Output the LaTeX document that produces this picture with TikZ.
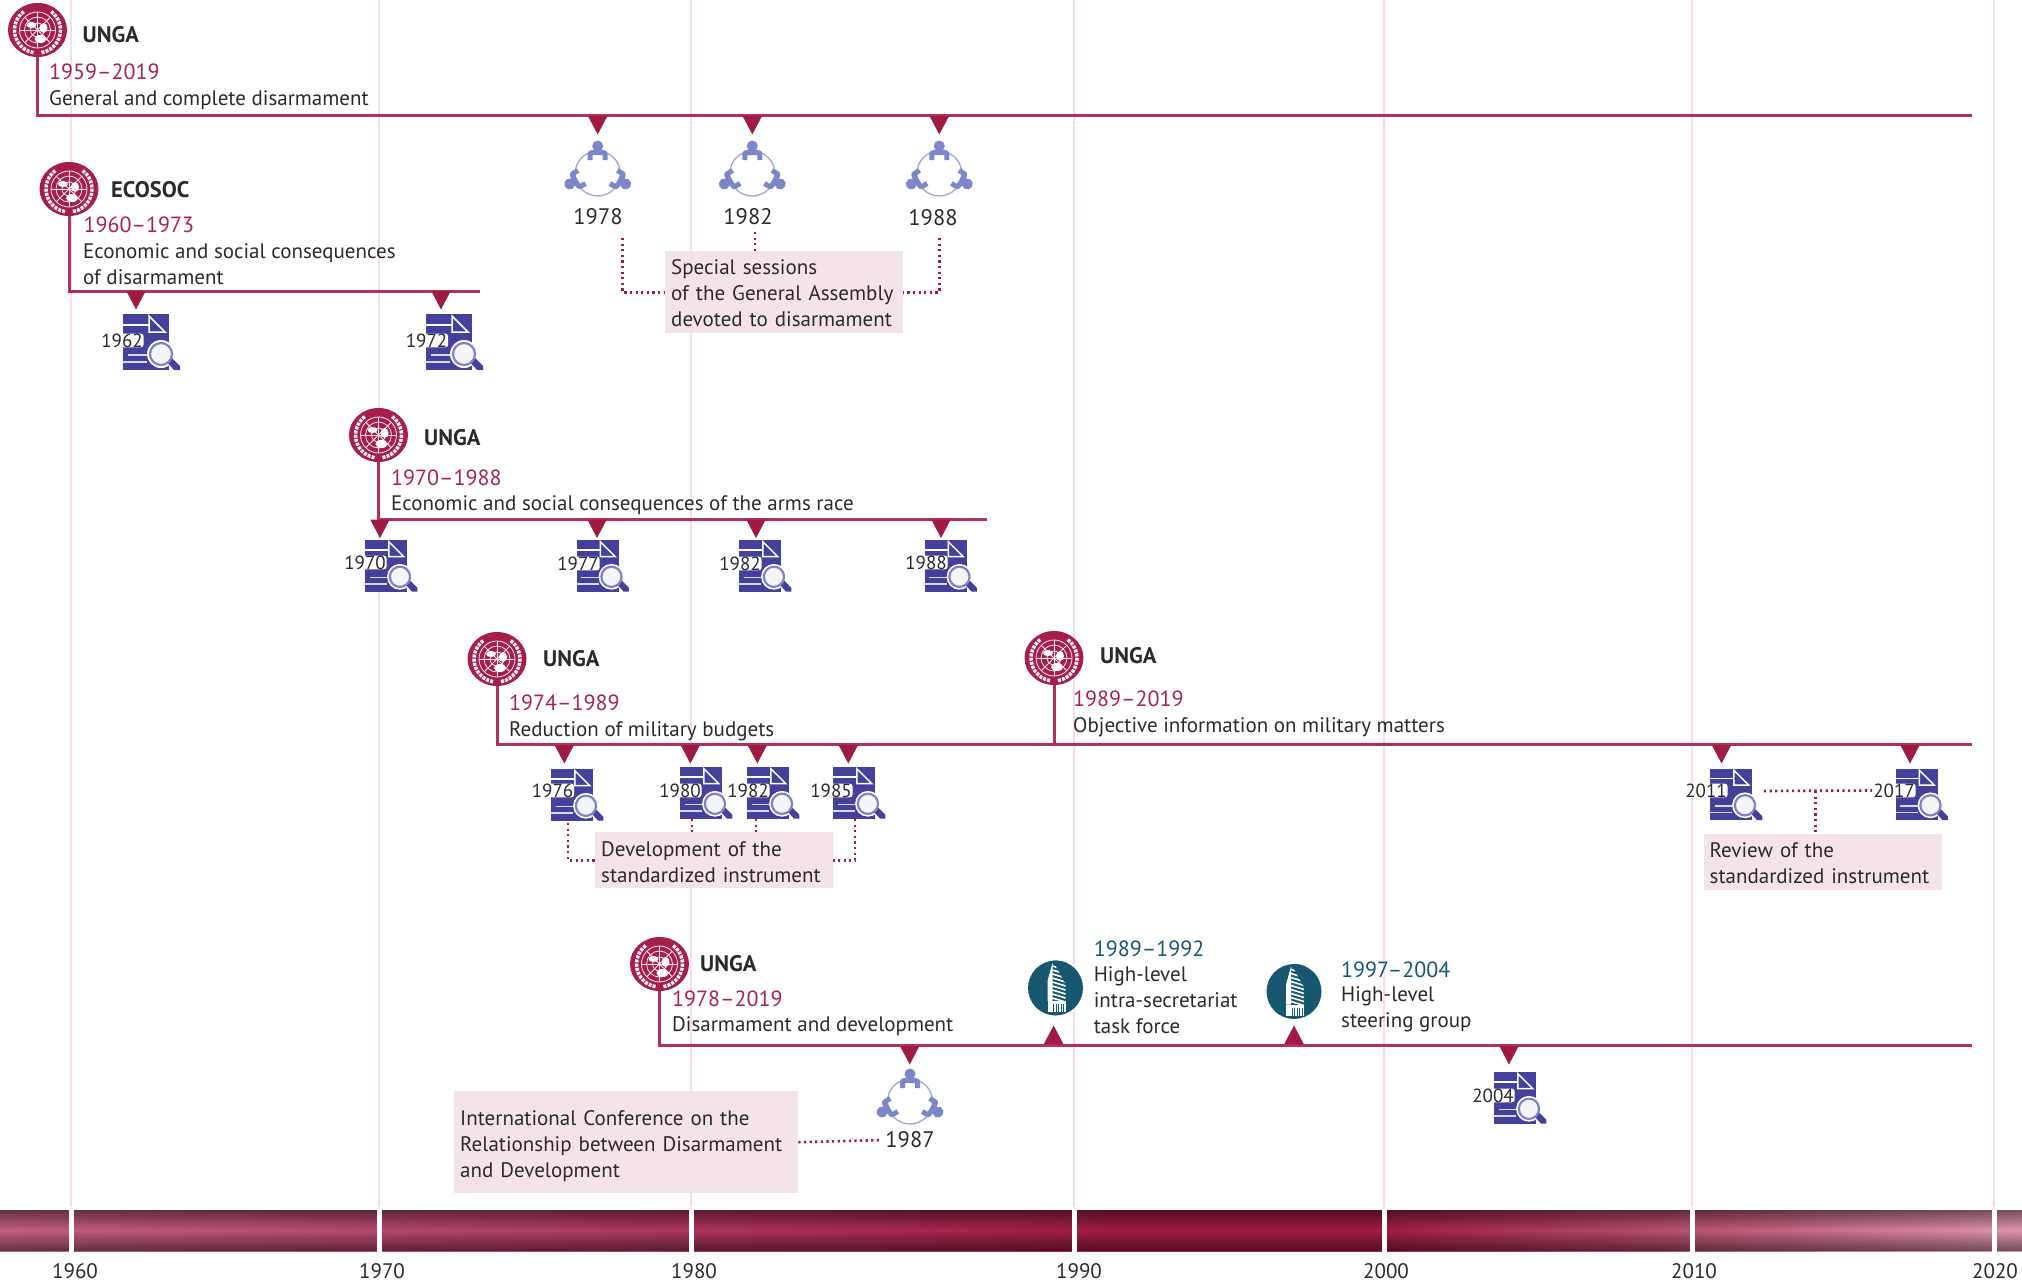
\documentclass[tikz,border=0pt]{standalone}
\usepackage{fontspec}
\setmainfont{PT Sans}
\usetikzlibrary{shapes.geometric}

\definecolor{linered}{RGB}{176,50,90}
\definecolor{trired}{RGB}{158,27,66}
\definecolor{unred}{RGB}{166,30,75}
\definecolor{rangered}{RGB}{168,36,80}
\definecolor{gridpink}{RGB}{245,222,230}
\definecolor{boxpink}{RGB}{244,228,232}
\definecolor{docblue}{RGB}{68,64,156}
\definecolor{ringblue}{RGB}{130,130,195}
\definecolor{folkblue}{RGB}{125,134,200}
\definecolor{teal}{RGB}{23,87,111}
\definecolor{inkgrey}{RGB}{42,42,42}
\definecolor{barA}{RGB}{192,96,128}
\definecolor{barB}{RGB}{172,52,92}
\definecolor{barC}{RGB}{160,28,68}
\definecolor{barD}{RGB}{185,85,115}
\definecolor{barE}{RGB}{222,150,175}

\pgfdeclarehorizontalshading{barshade}{100bp}{
  color(0bp)=(barA); color(25bp)=(barA); color(42.5bp)=(barB); color(52.5bp)=(barC);
  color(59bp)=(barC); color(67bp)=(barD); color(75bp)=(barE); color(100bp)=(barE)}

\tikzset{
  timeline/.style={draw=linered,line width=3pt},
  dotline/.style={draw=trired,line width=2.6pt,dash pattern=on 2.2pt off 3.4pt},
  tridown/.style={isosceles triangle,isosceles triangle stretches,shape border rotate=-90,fill=trired,
    inner sep=0pt,outer sep=0pt,minimum width=19.5pt,minimum height=18.5pt,anchor=lower side},
  triup/.style={tridown,shape border rotate=90},
  sizeA/.style={font=\fontsize{21}{26}\selectfont,text=inkgrey},
  bodytxt/.style={sizeA,anchor=west,inner sep=0pt,align=left},
  rangetxt/.style={font=\fontsize{22}{28}\selectfont,text=rangered,anchor=west,inner sep=0pt},
  tealtxt/.style={rangetxt,text=teal},
  orgtxt/.style={font=\fontsize{22.5}{26}\selectfont\bfseries,text=inkgrey,anchor=west,inner sep=0pt},
  yearlab/.style={font=\fontsize{19}{24}\selectfont,text=inkgrey,fill=white,rounded corners=3pt,inner xsep=1pt,inner ysep=0pt,yshift=-1.5pt},
  yearplain/.style={font=\fontsize{22.5}{28}\selectfont,text=inkgrey,inner sep=0pt},
  axislab/.style={sizeA,inner sep=0pt},
  infobox/.style={sizeA,fill=boxpink,inner xsep=6pt,inner ysep=0pt,align=left,anchor=north west,
    execute at begin node={\rule{0pt}{16pt}}},
  emblem/.style={ellipse,fill=unred,minimum width=59pt,minimum height=54pt,inner sep=0pt,
    path picture={
      \scope[shift={(path picture bounding box.center)},pink!35!white,line width=0.8pt]
        \foreach \rr in {7,13,18} {\draw (0,0) circle[radius=\rr];}
        \foreach \aa in {0,45,...,315} {\draw (0,0) -- (\aa:18);}
        \fill[white] (-6,-5) ellipse[x radius=5,y radius=3];
        \fill[white] (6,-2) ellipse[x radius=4,y radius=5];
        \fill[white] (3,9) ellipse[x radius=6,y radius=4];
        \draw[white!85!pink,line width=3.5pt,dash pattern=on 3pt off 1.2pt] (100:23) arc[start angle=100,end angle=235,radius=23];
        \draw[white!85!pink,line width=3.5pt,dash pattern=on 3pt off 1.2pt] (80:23) arc[start angle=80,end angle=-55,radius=23];
      \endscope}},
  tower/.style={circle,fill=teal,minimum size=55pt,inner sep=0pt,
    path picture={
      \scope[shift={(path picture bounding box.center)}]
        \fill[white] (-8,-7) -- (-3,-25) -- (-3,13) -- (-8,13) -- cycle;
        \fill[white] (-8,13) rectangle (10,24);
        \foreach \bx in {-2,0.5,...,8} {\draw[teal,line width=0.7pt] (\bx,16) -- (\bx,24);}
        \foreach \by in {-22,-18,...,10} {\draw[white,line width=1.6pt] (-3,\by) -- (10,\by+4);}
        \fill[teal] (-3,-28) -- (12,-28) -- (12,-5) -- (9,-6) -- cycle;
      \endscope}},
  docicon/.pic={
    \fill[docblue] (0,0) rectangle (46,56);
    \draw[white,line width=1.5pt] (0,11) -- (26,11);
    \draw[white,line width=1.5pt] (26,2) -- (42,18) -- (26,18) -- cycle;
    \draw[white!80!docblue,line width=1.5pt] (5,41) -- (24,41);
    \draw[white!80!docblue,line width=1.5pt] (0,48) -- (24,48);
    \fill[white] (38,40) circle[radius=14];
    \fill[docblue] (43,47) -- (48,43) -- (57,52) -- (57,56) -- (51,56) -- cycle;
    \draw[ringblue,fill=white!94!docblue,line width=2.2pt] (38,40) circle[radius=11];
  },
  triad/.pic={
    \draw[folkblue!70!white,line width=1.4pt] (0,1.5) circle[radius=22.5];
    \foreach \rot/\hx/\hy in {0/0/-26,240/28/12,120/-28/12} {
      \scope[shift={(\hx,\hy)},rotate=\rot]
        \fill[folkblue] (0,0) circle[radius=5.5];
        \fill[folkblue] (-10,14) -- (-10,8) .. controls (-10,4) and (-6,3.7) .. (0,3.7)
          .. controls (6,3.7) and (10,4) .. (10,8) -- (10,14) -- (5,14) -- (5,9)
          -- (-5,9) -- (-5,14) -- cycle;
      \endscope}
  }
}

\begin{document}
\begin{tikzpicture}[x=1pt,y=-1pt]
	\useasboundingbox (0,0) rectangle (2022,1282);

	% bar and grid
	\shade[shading=barshade] (0,1210) rectangle (2022,1251);
	\foreach \k in {0,...,40} {
		\fill[black,opacity={0.47*abs(\k-20)/20}] (0,1210+\k) rectangle (2022,1211+\k);
	}
	\foreach \gx/\lx/\yr in {71/75/1960,379/382/1970,691/694/1980,1074/1079/1990,1384/1386/2000,1692/1694/2010,1994/1995/2020} {
		\draw[gridpink,line width=1.6pt] (\gx,0) -- (\gx,1207);
		\fill[white] (\gx-2.5,1208) rectangle (\gx+2.5,1253);
		\node[axislab] (yr\yr) at (\lx,1271) {\yr};
	}

	% general and complete disarmament
	\node[emblem] (ungaA) at (37.5,30) {};
	\coordinate (endA) at (1972,115.5);
	\draw[timeline] (ungaA.south) |- (endA);
	\node[orgtxt] (orgA) at (82.5,34.5) {UNGA};
	\node[rangetxt] (rangeA) at (49,71.5) {1959–2019};
	\node[bodytxt] (nameA) at (49,100.5) {General and complete disarmament};
	\node[tridown] (triA1) at (597.7,116) {};
	\node[tridown] (triA2) at (752.3,116) {};
	\node[tridown] (triA3) at (939.3,116) {};
	\pic at (597.7,172) {triad};
	\pic at (752.3,172) {triad};
	\pic at (939.3,172) {triad};
	\node[yearplain] (yrA1) at (598,216.7) {1978};
	\node[yearplain] (yrA2) at (748,216.7) {1982};
	\node[yearplain] (yrA3) at (933,218) {1988};
	\node[infobox,minimum height=82pt,text width=225.7pt] (boxA) at (665,251) {Special sessions\\of the General Assembly\\devoted to disarmament};
	\coordinate (dotA1) at (622.5,238);
	\coordinate (dotA2) at (755,232);
	\coordinate (dotA3) at (939.3,238);
	\draw[dotline] (dotA1) |- (boxA.west);
	\draw[dotline] (dotA2) -- (dotA2|-boxA.north);
	\draw[dotline] (dotA3) |- (boxA.east);

	% economic and social consequences of disarmament
	\node[emblem] (ecosoc) at (69,189) {};
	\coordinate (endB) at (480,291);
	\draw[timeline] (ecosoc.south) |- (endB);
	\node[orgtxt] (orgB) at (111,189.5) {ECOSOC};
	\node[rangetxt] (rangeB) at (83.5,224.5) {1960–1973};
	\node[bodytxt] (nameB) at (83,264) {Economic and social consequences\\of disarmament};
	\node[tridown] (triB1) at (136,291) {};
	\node[tridown] (triB2) at (441,291) {};
	\pic at (123,314) {docicon};
	\pic at (426,314) {docicon};
	\node[yearlab] (yrB1) at (122,339) {1962};
	\node[yearlab] (yrB2) at (426.5,339) {1972};

	% arms race
	\node[emblem] (ungaC) at (378.5,435) {};
	\coordinate (endC) at (986.5,519);
	\draw[timeline] (ungaC.south) |- (endC);
	\node[orgtxt] (orgC) at (424,438) {UNGA};
	\node[rangetxt] (rangeC) at (391,477.5) {1970–1988};
	\node[bodytxt] (nameC) at (391,505.5) {Economic and social consequences of the arms race};
	\node[tridown] (triC1) at (380,519.5) {};
	\node[tridown] (triC2) at (597,519.5) {};
	\node[tridown] (triC3) at (756,519.5) {};
	\node[tridown] (triC4) at (941,519.5) {};
	\pic[scale=0.92] at (365,540) {docicon};
	\pic[scale=0.92] at (576.5,540) {docicon};
	\pic[scale=0.92] at (739,540) {docicon};
	\pic[scale=0.92] at (924.5,540) {docicon};
	\node[yearlab] (yrC1) at (365,561) {1970};
	\node[yearlab] (yrC2) at (578,562) {1977};
	\node[yearlab] (yrC3) at (740,562) {1982};
	\node[yearlab] (yrC4) at (926,561) {1988};

	% military budgets and military matters
	\node[emblem] (ungaD) at (497,659) {};
	\node[emblem] (ungaE) at (1054,658) {};
	\coordinate (endD) at (1972,744.5);
	\draw[timeline] (ungaD.south) |- (endD);
	\draw[timeline] (ungaE.south) -- (ungaE|-endD);
	\node[orgtxt] (orgD) at (543,658.6) {UNGA};
	\node[orgtxt] (orgE) at (1100,656) {UNGA};
	\node[rangetxt] (rangeD) at (509,702.5) {1974–1989};
	\node[rangetxt] (rangeE) at (1073,698.6) {1989–2019};
	\node[bodytxt] (nameD) at (509,731) {Reduction of military budgets};
	\node[bodytxt] (nameE) at (1073,727) {Objective information on military matters};
	\node[tridown] (triD1) at (564.3,745) {};
	\node[tridown] (triD2) at (690.3,745) {};
	\node[tridown] (triD3) at (757.3,745) {};
	\node[tridown] (triD4) at (848.3,745) {};
	\node[tridown] (triE1) at (1721.5,745) {};
	\node[tridown] (triE2) at (1910,745) {};
	\pic[scale=0.92] at (551,769) {docicon};
	\pic[scale=0.92] at (680,767) {docicon};
	\pic[scale=0.92] at (747,767) {docicon};
	\pic[scale=0.92] at (833,767) {docicon};
	\pic[scale=0.92] at (1710,768.5) {docicon};
	\pic[scale=0.92] at (1895.5,768.5) {docicon};
	\node[yearlab] (yrD1) at (552.5,789) {1976};
	\node[yearlab] (yrD2) at (680,789) {1980};
	\node[yearlab] (yrD3) at (748,789) {1982};
	\node[yearlab] (yrD4) at (831,789) {1985};
	\node[yearlab] (yrE1) at (1706,789) {2011};
	\node[yearlab] (yrE2) at (1894,789) {2017};
	\node[infobox,minimum height=56pt,text width=226pt,execute at begin node={\rule{0pt}{18pt}}] (boxD) at (595,832) {Development of the\\standardized instrument};
	\node[infobox,minimum height=56pt,text width=226.5pt] (boxE) at (1703.5,834) {Review of the\\standardized instrument};
	\coordinate (dotD1) at (568,823);
	\coordinate (dotD2) at (692,819);
	\coordinate (dotD3) at (756,819);
	\coordinate (dotD4) at (855,819);
	\coordinate (dotE1) at (1764,791);
	\coordinate (dotE2) at (1815.6,791);
	\draw[dotline] (dotD1) |- (boxD.west);
	\draw[dotline] (dotD2) -- (dotD2|-boxD.north);
	\draw[dotline] (dotD3) -- (dotD3|-boxD.north);
	\draw[dotline] (dotD4) |- (boxD.east);
	\draw[dotline] (dotE1) -- (yrE2.west);
	\draw[dotline] (dotE2) -- (dotE2|-boxE.north);

	% disarmament and development
	\node[emblem] (ungaF) at (659.5,964) {};
	\coordinate (endF) at (1972,1045);
	\draw[timeline] (ungaF.south) |- (endF);
	\node[orgtxt] (orgF) at (700,963.6) {UNGA};
	\node[rangetxt] (rangeF) at (672,998.5) {1978–2019};
	\node[bodytxt] (nameF) at (672,1026.5) {Disarmament and development};
	\node[tridown] (triF1) at (909.7,1046) {};
	\node[tridown] (triF2) at (1509,1046) {};
	\node[triup] (triF3) at (1053.6,1044) {};
	\node[triup] (triF4) at (1294,1044) {};
	\node[tower] (towerA) at (1055.5,988) {};
	\node[tower] (towerB) at (1294,991.5) {};
	\node[tealtxt] (rangeG) at (1093.6,948.5) {1989–1992};
	\node[bodytxt] (nameG) at (1093.6,1000) {High-level\\intra-secretariat\\task force};
	\node[tealtxt] (rangeH) at (1341,970) {1997–2004};
	\node[bodytxt] (nameH) at (1341,1009.5) {High-level\\steering group};
	\pic at (910,1100) {triad};
	\node[yearplain] (yrF1) at (910,1140) {1987};
	\pic[scale=0.92] at (1494,1072) {docicon};
	\node[yearlab] (yrF2) at (1493,1094) {2004};
	\node[infobox,minimum height=102pt,text width=332pt,execute at begin node={\rule{0pt}{22pt}}] (boxF) at (454,1091) {International Conference on the\\Relationship between Disarmament\\and Development};
	\draw[dotline,shorten >=5pt] (boxF.east) -- (yrF1.west);
\end{tikzpicture}
\end{document}
